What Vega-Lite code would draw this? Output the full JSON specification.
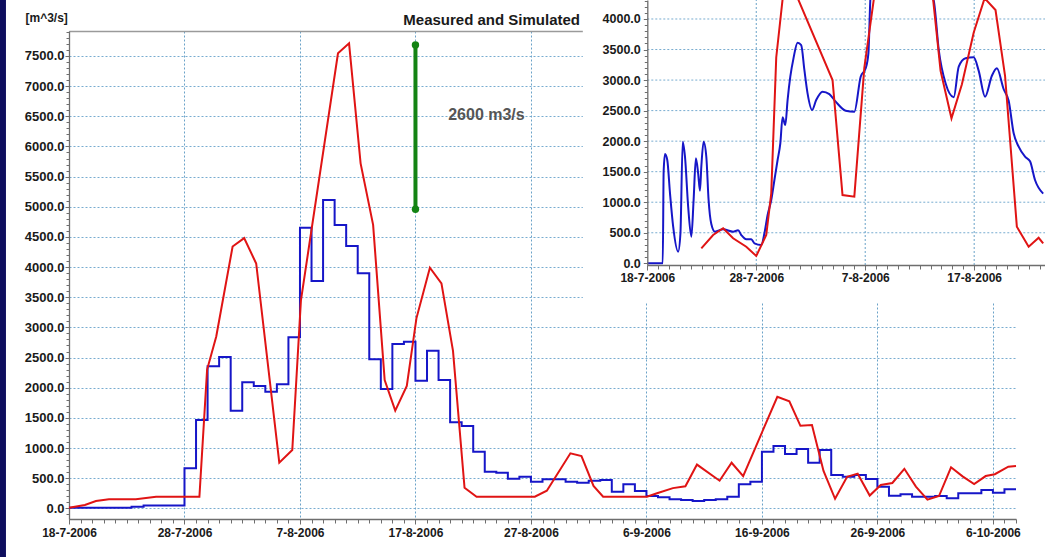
{
  "$schema": "https://vega.github.io/schema/vega-lite/v6.json",
  "width": 947,
  "height": 488,
  "autosize": "none",
  "padding": {"left": 69, "top": 31, "right": 29, "bottom": 38},
  "background": "white",
  "config": {
    "view": {"stroke": null},
    "axis": {"labelFont": "Liberation Sans", "labelFontWeight": "bold", "labelColor": "#1a1a1a", "domainColor": "#6e6e6e", "domainWidth": 1.3, "tickColor": "#6e6e6e", "gridColor": "#78acd0", "gridDash": [2, 2], "gridWidth": 1, "gridOpacity": 1, "labelOverlap": false, "labelFlush": false, "labelBound": false, "titleFont": "Liberation Sans"},
    "text": {"font": "Liberation Sans"}
  },
  "datasets": {
    "meas": [
      {"t": "2006-07-18T00:00", "v": 10}, {"t": "2006-07-23T10:00", "v": 25}, {"t": "2006-07-24T11:00", "v": 45},
      {"t": "2006-07-28T00:00", "v": 663}, {"t": "2006-07-29T00:00", "v": 1464}, {"t": "2006-07-30T00:00", "v": 2354},
      {"t": "2006-07-31T00:00", "v": 2509}, {"t": "2006-08-01T00:00", "v": 1619}, {"t": "2006-08-02T00:00", "v": 2089},
      {"t": "2006-08-03T00:00", "v": 2028}, {"t": "2006-08-04T00:00", "v": 1934}, {"t": "2006-08-05T00:00", "v": 2056},
      {"t": "2006-08-06T00:00", "v": 2835}, {"t": "2006-08-07T00:00", "v": 4653}, {"t": "2006-08-08T00:00", "v": 3769},
      {"t": "2006-08-09T00:00", "v": 5112}, {"t": "2006-08-10T00:00", "v": 4697}, {"t": "2006-08-11T00:00", "v": 4350},
      {"t": "2006-08-12T00:00", "v": 3897}, {"t": "2006-08-13T00:00", "v": 2470}, {"t": "2006-08-14T00:00", "v": 1978},
      {"t": "2006-08-15T00:00", "v": 2724}, {"t": "2006-08-16T00:00", "v": 2762}, {"t": "2006-08-17T00:00", "v": 2116},
      {"t": "2006-08-18T00:00", "v": 2613}, {"t": "2006-08-19T00:00", "v": 2127}, {"t": "2006-08-20T00:00", "v": 1426},
      {"t": "2006-08-21T00:00", "v": 1365}, {"t": "2006-08-22T00:00", "v": 939}, {"t": "2006-08-23T00:00", "v": 607},
      {"t": "2006-08-24T00:00", "v": 591}, {"t": "2006-08-25T00:00", "v": 490}, {"t": "2006-08-26T00:00", "v": 524},
      {"t": "2006-08-27T00:00", "v": 441}, {"t": "2006-08-28T00:00", "v": 480}, {"t": "2006-08-29T00:00", "v": 480},
      {"t": "2006-08-30T00:00", "v": 441}, {"t": "2006-08-31T00:00", "v": 425}, {"t": "2006-09-01T00:00", "v": 458},
      {"t": "2006-09-02T00:00", "v": 469}, {"t": "2006-09-03T00:00", "v": 275}, {"t": "2006-09-04T00:00", "v": 398},
      {"t": "2006-09-05T00:00", "v": 287}, {"t": "2006-09-06T00:00", "v": 204}, {"t": "2006-09-07T00:00", "v": 182},
      {"t": "2006-09-08T00:00", "v": 149}, {"t": "2006-09-09T00:00", "v": 138}, {"t": "2006-09-10T00:00", "v": 121},
      {"t": "2006-09-11T00:00", "v": 138}, {"t": "2006-09-12T00:00", "v": 149}, {"t": "2006-09-13T00:00", "v": 192},
      {"t": "2006-09-14T00:00", "v": 398}, {"t": "2006-09-15T00:00", "v": 441}, {"t": "2006-09-16T00:00", "v": 939},
      {"t": "2006-09-17T00:00", "v": 1033}, {"t": "2006-09-18T00:00", "v": 900}, {"t": "2006-09-19T00:00", "v": 983},
      {"t": "2006-09-20T00:00", "v": 756}, {"t": "2006-09-21T00:00", "v": 967}, {"t": "2006-09-22T00:00", "v": 552},
      {"t": "2006-09-23T00:00", "v": 524}, {"t": "2006-09-24T00:00", "v": 552}, {"t": "2006-09-25T00:00", "v": 486},
      {"t": "2006-09-26T00:00", "v": 358}, {"t": "2006-09-27T00:00", "v": 209}, {"t": "2006-09-28T00:00", "v": 232},
      {"t": "2006-09-29T00:00", "v": 192}, {"t": "2006-09-30T00:00", "v": 192}, {"t": "2006-10-01T00:00", "v": 204},
      {"t": "2006-10-02T00:00", "v": 166}, {"t": "2006-10-03T00:00", "v": 249}, {"t": "2006-10-04T00:00", "v": 249},
      {"t": "2006-10-05T00:00", "v": 303}, {"t": "2006-10-06T00:00", "v": 259}, {"t": "2006-10-07T00:00", "v": 315},
      {"t": "2006-10-08T00:00", "v": 315}
    ],
    "sim": [
      {"t": "2006-07-18T00:00", "v": 10}, {"t": "2006-07-19T09:00", "v": 55}, {"t": "2006-07-20T08:00", "v": 120},
      {"t": "2006-07-21T11:00", "v": 150}, {"t": "2006-07-23T19:00", "v": 150}, {"t": "2006-07-25T13:00", "v": 190},
      {"t": "2006-07-29T07:00", "v": 190}, {"t": "2006-07-29T23:00", "v": 2300}, {"t": "2006-07-30T18:00", "v": 2850},
      {"t": "2006-08-01T04:00", "v": 4340}, {"t": "2006-08-02T04:00", "v": 4480}, {"t": "2006-08-03T05:00", "v": 4060},
      {"t": "2006-08-05T05:00", "v": 756}, {"t": "2006-08-06T08:00", "v": 967}, {"t": "2006-08-07T02:00", "v": 3450},
      {"t": "2006-08-10T07:00", "v": 7544}, {"t": "2006-08-11T06:00", "v": 7710}, {"t": "2006-08-12T06:00", "v": 5720},
      {"t": "2006-08-13T08:00", "v": 4700}, {"t": "2006-08-14T08:00", "v": 2127}, {"t": "2006-08-15T06:00", "v": 1619},
      {"t": "2006-08-16T06:00", "v": 2028}, {"t": "2006-08-17T02:00", "v": 3150}, {"t": "2006-08-18T06:00", "v": 3990},
      {"t": "2006-08-19T06:00", "v": 3731}, {"t": "2006-08-20T06:00", "v": 2610}, {"t": "2006-08-21T06:00", "v": 340},
      {"t": "2006-08-22T07:00", "v": 192}, {"t": "2006-08-27T08:00", "v": 192}, {"t": "2006-08-28T09:00", "v": 292},
      {"t": "2006-08-30T10:00", "v": 912}, {"t": "2006-08-31T09:00", "v": 867}, {"t": "2006-09-01T10:00", "v": 372},
      {"t": "2006-09-02T06:00", "v": 192}, {"t": "2006-09-06T01:00", "v": 192}, {"t": "2006-09-06T22:00", "v": 250},
      {"t": "2006-09-08T07:00", "v": 335}, {"t": "2006-09-09T09:00", "v": 365}, {"t": "2006-09-10T09:00", "v": 725},
      {"t": "2006-09-12T08:00", "v": 458}, {"t": "2006-09-13T09:00", "v": 756}, {"t": "2006-09-14T09:00", "v": 535},
      {"t": "2006-09-17T08:00", "v": 1850}, {"t": "2006-09-18T09:00", "v": 1775}, {"t": "2006-09-19T08:00", "v": 1368},
      {"t": "2006-09-20T08:00", "v": 1381}, {"t": "2006-09-21T08:00", "v": 620}, {"t": "2006-09-22T08:00", "v": 158},
      {"t": "2006-09-23T09:00", "v": 524}, {"t": "2006-09-24T07:00", "v": 575}, {"t": "2006-09-25T08:00", "v": 212},
      {"t": "2006-09-26T07:00", "v": 387}, {"t": "2006-09-27T07:00", "v": 420}, {"t": "2006-09-28T08:00", "v": 655},
      {"t": "2006-09-29T08:00", "v": 360}, {"t": "2006-09-30T08:00", "v": 144}, {"t": "2006-10-01T08:00", "v": 204},
      {"t": "2006-10-02T09:00", "v": 680}, {"t": "2006-10-03T09:00", "v": 530}, {"t": "2006-10-04T09:00", "v": 403},
      {"t": "2006-10-05T09:00", "v": 535}, {"t": "2006-10-06T04:00", "v": 566}, {"t": "2006-10-07T08:00", "v": 690},
      {"t": "2006-10-08T00:00", "v": 701}
    ],
    "peak": [
      {"t": "2006-08-17T00:00", "v": 7682}, {"t": "2006-08-17T00:00", "v": 4958}
    ],
    "ingridx": [
      {"t": "2006-07-28T00:00"}, {"t": "2006-08-07T00:00"}, {"t": "2006-08-17T00:00"}
    ],
    "ingridy": [
      {"v": 500}, {"v": 1000}, {"v": 1500}, {"v": 2000}, {"v": 2500}, {"v": 3000}, {"v": 3500}, {"v": 4000}
    ],
    "inmeas": [
      {"t": "2006-07-18T00:00", "v": 0}, {"t": "2006-07-19T10:00", "v": 0}, {"t": "2006-07-19T12:00", "v": 1500},
      {"t": "2006-07-19T15:00", "v": 1790}, {"t": "2006-07-19T20:00", "v": 1691}, {"t": "2006-07-20T02:00", "v": 1146},
      {"t": "2006-07-20T09:00", "v": 600}, {"t": "2006-07-20T20:00", "v": 190}, {"t": "2006-07-21T01:00", "v": 491},
      {"t": "2006-07-21T06:00", "v": 1991}, {"t": "2006-07-21T11:00", "v": 1745}, {"t": "2006-07-21T18:00", "v": 927},
      {"t": "2006-07-22T01:00", "v": 436}, {"t": "2006-07-22T06:00", "v": 1036}, {"t": "2006-07-22T11:00", "v": 1719},
      {"t": "2006-07-22T16:00", "v": 1474}, {"t": "2006-07-22T20:00", "v": 1189}, {"t": "2006-07-22T23:00", "v": 1582},
      {"t": "2006-07-23T04:00", "v": 1991}, {"t": "2006-07-23T10:00", "v": 1745}, {"t": "2006-07-23T15:00", "v": 1036},
      {"t": "2006-07-23T21:00", "v": 643}, {"t": "2006-07-24T05:00", "v": 518}, {"t": "2006-07-24T23:00", "v": 557},
      {"t": "2006-07-25T21:00", "v": 518}, {"t": "2006-07-26T08:00", "v": 540}, {"t": "2006-07-26T15:00", "v": 463},
      {"t": "2006-07-27T02:00", "v": 393}, {"t": "2006-07-27T13:00", "v": 393}, {"t": "2006-07-27T20:00", "v": 327},
      {"t": "2006-07-28T11:00", "v": 300}, {"t": "2006-07-28T18:00", "v": 491}, {"t": "2006-07-29T01:00", "v": 791},
      {"t": "2006-07-29T09:00", "v": 1036}, {"t": "2006-07-29T16:00", "v": 1364}, {"t": "2006-07-29T23:00", "v": 1691},
      {"t": "2006-07-30T05:00", "v": 1964}, {"t": "2006-07-30T10:00", "v": 2390}, {"t": "2006-07-30T16:00", "v": 2264},
      {"t": "2006-07-30T21:00", "v": 2673}, {"t": "2006-07-31T03:00", "v": 3055}, {"t": "2006-07-31T10:00", "v": 3356},
      {"t": "2006-07-31T19:00", "v": 3612}, {"t": "2006-08-01T03:00", "v": 3574}, {"t": "2006-08-01T10:00", "v": 3165},
      {"t": "2006-08-01T17:00", "v": 2783}, {"t": "2006-08-02T03:00", "v": 2510}, {"t": "2006-08-02T12:00", "v": 2673},
      {"t": "2006-08-03T02:00", "v": 2810}, {"t": "2006-08-03T17:00", "v": 2770}, {"t": "2006-08-04T07:00", "v": 2646},
      {"t": "2006-08-05T05:00", "v": 2499}, {"t": "2006-08-06T00:00", "v": 2482}, {"t": "2006-08-06T14:00", "v": 3055},
      {"t": "2006-08-07T01:00", "v": 3193}, {"t": "2006-08-07T07:00", "v": 3438}, {"t": "2006-08-07T12:00", "v": 4400},
      {"t": "2006-08-09T00:00", "v": 5300}, {"t": "2006-08-11T12:00", "v": 5000}, {"t": "2006-08-13T07:00", "v": 4300},
      {"t": "2006-08-13T18:00", "v": 3492}, {"t": "2006-08-14T09:00", "v": 2947}, {"t": "2006-08-15T03:00", "v": 2720},
      {"t": "2006-08-15T14:00", "v": 3219}, {"t": "2006-08-16T05:00", "v": 3356}, {"t": "2006-08-16T23:00", "v": 3372},
      {"t": "2006-08-17T10:00", "v": 3150}, {"t": "2006-08-18T00:00", "v": 2728}, {"t": "2006-08-18T15:00", "v": 3070},
      {"t": "2006-08-19T02:00", "v": 3193}, {"t": "2006-08-19T17:00", "v": 2850}, {"t": "2006-08-20T04:00", "v": 2660},
      {"t": "2006-08-20T15:00", "v": 2128}, {"t": "2006-08-21T02:00", "v": 1909}, {"t": "2006-08-21T16:00", "v": 1745},
      {"t": "2006-08-22T03:00", "v": 1670}, {"t": "2006-08-22T14:00", "v": 1364}, {"t": "2006-08-23T08:00", "v": 1140}
    ],
    "insim": [
      {"t": "2006-07-22T23:00", "v": 245}, {"t": "2006-07-24T01:00", "v": 463}, {"t": "2006-07-24T23:00", "v": 573},
      {"t": "2006-07-25T21:00", "v": 409}, {"t": "2006-07-27T02:00", "v": 272}, {"t": "2006-07-28T00:00", "v": 120},
      {"t": "2006-07-28T22:00", "v": 463}, {"t": "2006-07-29T09:00", "v": 1146}, {"t": "2006-07-29T20:00", "v": 3370},
      {"t": "2006-07-30T17:00", "v": 4800}, {"t": "2006-08-04T00:00", "v": 3001}, {"t": "2006-08-04T22:00", "v": 1118},
      {"t": "2006-08-06T00:00", "v": 1091}, {"t": "2006-08-06T22:00", "v": 3200}, {"t": "2006-08-10T07:00", "v": 7544},
      {"t": "2006-08-11T06:00", "v": 7710}, {"t": "2006-08-12T06:00", "v": 6000}, {"t": "2006-08-13T22:00", "v": 3150},
      {"t": "2006-08-14T22:00", "v": 2374}, {"t": "2006-08-15T21:00", "v": 2930}, {"t": "2006-08-16T23:00", "v": 3780},
      {"t": "2006-08-17T23:00", "v": 4340}, {"t": "2006-08-18T23:00", "v": 4147}, {"t": "2006-08-19T20:00", "v": 3070},
      {"t": "2006-08-20T22:00", "v": 600}, {"t": "2006-08-22T00:00", "v": 272}, {"t": "2006-08-22T22:00", "v": 418},
      {"t": "2006-08-23T08:00", "v": 327}
    ]
  },
  "layer": [
    {
      "layer": [
        {
          "data": {"values": [{}]},
          "mark": {"type": "rect", "color": "#0e0e5e"},
          "encoding": {
            "x": {"datum": {"year": 2006, "month": 7, "date": 10}, "type": "temporal", "scale": {"domain": [{"year": 2006, "month": 7, "date": 18}, {"year": 2006, "month": 10, "date": 8}]}, "axis": null},
            "x2": {"datum": {"year": 2006, "month": 7, "date": 12, "hours": 13}},
            "y": {"datum": -3000, "type": "quantitative", "scale": {"domain": [-177, 7914], "nice": false, "zero": false}, "axis": null},
            "y2": {"datum": 9500}
          }
        },
        {
          "data": {"name": "meas"},
          "mark": {"type": "line", "interpolate": "step-after", "color": "#1616c8", "strokeWidth": 2},
          "encoding": {
            "x": {"field": "t", "type": "temporal", "scale": {"domain": [{"year": 2006, "month": 7, "date": 18}, {"year": 2006, "month": 10, "date": 8}]},
              "axis": {"orient": "bottom", "title": null, "format": "%-d-%-m-%Y", "labelFontSize": 12, "tickSize": 5, "labelPadding": 3, "grid": true, "gridColor": "#6aa2c8",
                "values": [{"year": 2006, "month": 7, "date": 18}, {"year": 2006, "month": 7, "date": 28}, {"year": 2006, "month": 8, "date": 7}, {"year": 2006, "month": 8, "date": 17}, {"year": 2006, "month": 8, "date": 27}, {"year": 2006, "month": 9, "date": 6}, {"year": 2006, "month": 9, "date": 16}, {"year": 2006, "month": 9, "date": 26}, {"year": 2006, "month": 10, "date": 6}]}},
            "y": {"field": "v", "type": "quantitative", "scale": {"domain": [-177, 7914], "nice": false, "zero": false},
              "axis": {"orient": "left", "values": [0, 500, 1000, 1500, 2000, 2500, 3000, 3500, 4000, 4500, 5000, 5500, 6000, 6500, 7000, 7500], "format": ".1f", "labelFontSize": 13, "tickSize": 4, "labelPadding": 1, "grid": true,
                "title": "[m^3/s]", "titleAngle": 0, "titleX": -44, "titleY": -14, "titleAlign": "left", "titleBaseline": "middle", "titleFontSize": 12, "titleFontWeight": "bold", "titleColor": "#1a1a1a"}}
          }
        },
        {
          "data": {"name": "sim"},
          "mark": {"type": "line", "color": "#e01414", "strokeWidth": 2},
          "encoding": {
            "x": {"field": "t", "type": "temporal", "scale": {"domain": [{"year": 2006, "month": 7, "date": 18}, {"year": 2006, "month": 10, "date": 8}]},
              "axis": {"orient": "bottom", "title": null, "labels": false, "grid": false, "domain": false, "tickSize": 4, "tickCount": {"interval": "day", "step": 1}}},
            "y": {"field": "v", "type": "quantitative", "scale": {"domain": [-177, 7914], "nice": false, "zero": false},
              "axis": {"orient": "left", "title": null, "labels": false, "grid": false, "domain": false, "tickSize": 3, "tickCount": 80}}
          }
        },
        {
          "data": {"name": "peak"},
          "mark": {"type": "line", "color": "#138313", "strokeWidth": 4, "point": {"filled": true, "size": 55, "color": "#138313"}},
          "encoding": {
            "x": {"field": "t", "type": "temporal", "scale": {"domain": [{"year": 2006, "month": 7, "date": 18}, {"year": 2006, "month": 10, "date": 8}]},
              "axis": {"orient": "top", "title": null, "labels": false, "ticks": false, "grid": false, "domain": true, "domainColor": "#9a9a9a", "domainWidth": 1.5}},
            "y": {"field": "v", "type": "quantitative", "scale": {"domain": [-177, 7914], "nice": false, "zero": false}, "axis": null}
          }
        },
        {
          "data": {"values": [{}]},
          "mark": {"type": "text", "text": "2600 m3/s", "align": "left", "baseline": "middle", "fontSize": 16, "fontWeight": "bold", "color": "#555555"},
          "encoding": {
            "x": {"datum": {"year": 2006, "month": 8, "date": 19, "hours": 20}, "type": "temporal", "scale": {"domain": [{"year": 2006, "month": 7, "date": 18}, {"year": 2006, "month": 10, "date": 8}]}, "axis": null},
            "y": {"datum": 6521, "type": "quantitative", "scale": {"domain": [-177, 7914], "nice": false, "zero": false}, "axis": null}
          }
        },
        {
          "data": {"values": [{}]},
          "mark": {"type": "text", "text": "Measured and Simulated", "align": "right", "baseline": "middle", "fontSize": 15, "fontWeight": "bold", "color": "#1a1a1a"},
          "encoding": {
            "x": {"datum": {"year": 2006, "month": 8, "date": 31, "hours": 6}, "type": "temporal", "scale": {"domain": [{"year": 2006, "month": 7, "date": 18}, {"year": 2006, "month": 10, "date": 8}]}, "axis": null},
            "y": {"datum": 8097, "type": "quantitative", "scale": {"domain": [-177, 7914], "nice": false, "zero": false}, "axis": null}
          }
        }
      ],
      "resolve": {"axis": {"x": "independent", "y": "independent"}}
    },
    {
      "layer": [
        {
          "data": {"values": [{}]},
          "mark": {"type": "rect", "color": "white"},
          "encoding": {
            "x": {"datum": {"year": 2006, "month": 7, "date": 12, "hours": 2}, "type": "temporal", "scale": {"domain": [{"year": 2006, "month": 7, "date": 18}, {"year": 2006, "month": 8, "date": 23, "hours": 12}], "range": [578.3, 976]}, "axis": null},
            "x2": {"datum": {"year": 2006, "month": 8, "date": 26}},
            "y": {"datum": -650, "type": "quantitative", "scale": {"domain": [-28, 4311], "range": [234, -31], "nice": false, "zero": false}, "axis": null},
            "y2": {"datum": 5000}
          }
        },
        {
          "data": {"name": "ingridx"},
          "mark": {"type": "rule", "color": "#6aa2c8", "strokeDash": [2, 2], "strokeWidth": 1},
          "encoding": {
            "x": {"field": "t", "type": "temporal", "scale": {"domain": [{"year": 2006, "month": 7, "date": 18}, {"year": 2006, "month": 8, "date": 23, "hours": 12}], "range": [578.3, 976]}, "axis": null},
            "y": {"datum": -28, "type": "quantitative", "scale": {"domain": [-28, 4311], "range": [234, -31], "nice": false, "zero": false}, "axis": null},
            "y2": {"datum": 4600}
          }
        },
        {
          "data": {"name": "ingridy"},
          "mark": {"type": "rule", "color": "#78acd0", "strokeDash": [2, 2], "strokeWidth": 1},
          "encoding": {
            "x": {"datum": {"year": 2006, "month": 7, "date": 18}, "type": "temporal", "scale": {"domain": [{"year": 2006, "month": 7, "date": 18}, {"year": 2006, "month": 8, "date": 23, "hours": 12}], "range": [578.3, 976]}, "axis": null},
            "x2": {"datum": {"year": 2006, "month": 8, "date": 26}},
            "y": {"field": "v", "type": "quantitative", "scale": {"domain": [-28, 4311], "range": [234, -31], "nice": false, "zero": false}, "axis": null}
          }
        },
        {
          "data": {"name": "inmeas"},
          "mark": {"type": "line", "interpolate": "monotone", "color": "#1616c8", "strokeWidth": 2},
          "encoding": {
            "x": {"field": "t", "type": "temporal", "scale": {"domain": [{"year": 2006, "month": 7, "date": 18}, {"year": 2006, "month": 8, "date": 23, "hours": 12}], "range": [578.3, 976]},
              "axis": {"orient": "bottom", "offset": -254, "zindex": 1, "title": null, "format": "%-d-%-m-%Y", "labelFontSize": 12, "tickSize": 5, "labelPadding": 2, "grid": false,
                "values": [{"year": 2006, "month": 7, "date": 18}, {"year": 2006, "month": 7, "date": 28}, {"year": 2006, "month": 8, "date": 7}, {"year": 2006, "month": 8, "date": 17}]}},
            "y": {"field": "v", "type": "quantitative", "scale": {"domain": [-28, 4311], "range": [234, -31], "nice": false, "zero": false},
              "axis": {"orient": "left", "offset": -578.3, "zindex": 1, "title": null, "values": [0, 500, 1000, 1500, 2000, 2500, 3000, 3500, 4000], "format": ".1f", "labelFontSize": 12.5, "tickSize": 4, "labelPadding": 3, "grid": false}}
          }
        },
        {
          "data": {"name": "insim"},
          "mark": {"type": "line", "color": "#e01414", "strokeWidth": 2},
          "encoding": {
            "x": {"field": "t", "type": "temporal", "scale": {"domain": [{"year": 2006, "month": 7, "date": 18}, {"year": 2006, "month": 8, "date": 23, "hours": 12}], "range": [578.3, 976]},
              "axis": {"orient": "bottom", "offset": -254, "zindex": 1, "title": null, "labels": false, "grid": false, "domain": false, "tickSize": 4, "tickCount": {"interval": "day", "step": 1}}},
            "y": {"field": "v", "type": "quantitative", "scale": {"domain": [-28, 4311], "range": [234, -31], "nice": false, "zero": false},
              "axis": {"orient": "left", "offset": -578.3, "zindex": 1, "title": null, "labels": false, "grid": false, "domain": false, "tickSize": 3, "tickCount": 44}}
          }
        }
      ],
      "resolve": {"axis": {"x": "independent", "y": "independent"}}
    }
  ],
  "resolve": {"scale": {"x": "independent", "y": "independent"}}
}
